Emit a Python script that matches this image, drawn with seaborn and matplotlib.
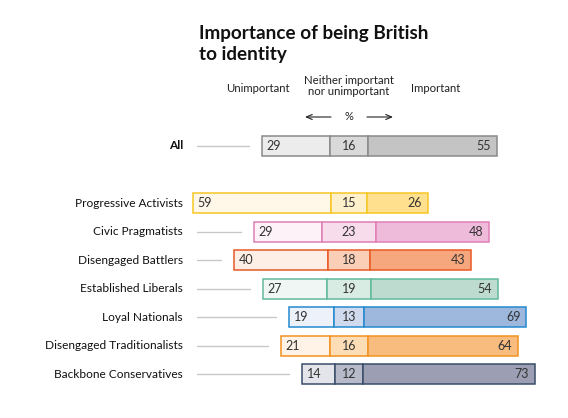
import numpy as np
import pandas as pd
import seaborn as sns
import matplotlib.pyplot as plt

# data
segments = ["All", "Progressive Activists", "Civic Pragmatists", "Disengaged Battlers",
            "Established Liberals", "Loyal Nationals", "Disengaged Traditionalists",
            "Backbone Conservatives"]
unimportant = [29, 59, 29, 40, 27, 19, 21, 14]
neither = [16, 15, 23, 18, 19, 13, 16, 12]
important = [55, 26, 48, 43, 54, 69, 64, 73]
row_pos = [0, 2, 3, 4, 5, 6, 7, 8]

edge_colors = ["#8a8a8a", "#f7c624", "#e07fb6", "#e85a25", "#62b99c",
               "#2389cf", "#f3921f", "#3b4d69"]
fill_colors = [
    ["#ececec", "#d9d9d9", "#c4c4c4"],
    ["#fff8e9", "#fff0cc", "#ffe08e"],
    ["#fdf2f8", "#f7dcec", "#efbbdb"],
    ["#fdeee6", "#fbcfb7", "#f6a77d"],
    ["#f0f6f3", "#d9ece4", "#bddccf"],
    ["#edf1fa", "#cfdaee", "#9db7dd"],
    ["#fef3e6", "#fcddb6", "#f7bc7e"],
    ["#e3e5ea", "#b6bac9", "#9c9fb3"],
]

sns.set_theme(style="white")
plt.rcParams["font.family"] = ["Lato", "DejaVu Sans"]

fig = plt.figure(figsize=(5.68, 4.18), dpi=100)
ax = fig.add_axes([0, 0, 1, 1])

# bars centred on the middle of the "neither" segment
unimp = np.array(unimportant)
neut = np.array(neither)
imp = np.array(important)
left0 = -(unimp + neut / 2)
left1 = -neut / 2
left2 = neut / 2

df = pd.DataFrame({"pos": row_pos, "u": unimp, "n": neut, "i": imp,
                   "l0": left0, "l1": left1, "l2": left2})

for k, (col, lcol) in enumerate([("u", "l0"), ("n", "l1"), ("i", "l2")]):
    sns.barplot(data=df, x=col, y="pos", orient="h", native_scale=True,
                left=df[lcol].values, width=0.7, errorbar=None, color="white",
                saturation=1, ax=ax)
    for j, patch in enumerate(ax.containers[-1]):
        patch.set_facecolor(fill_colors[j][k])
        patch.set_edgecolor(edge_colors[j])
        patch.set_linewidth(1.1)

# centre at x=349px, 2.35 px per %
ax.set_xlim(-148.5, 93.2)
ax.set_ylim(9.54, -5.12)
ax.axis("off")

tc = "#333333"
for j in range(len(segments)):
    y = row_pos[j]
    ax.text(left0[j] + 2.0, y, str(unimportant[j]), ha="left", va="center",
            fontsize=9, color=tc)
    ax.text(0, y, str(neither[j]), ha="center", va="center", fontsize=9, color=tc)
    ax.text(left2[j] + imp[j] - 2.5, y, str(important[j]), ha="right",
            va="center", fontsize=9, color=tc)
    ax.text(-70.6, y, segments[j], ha="right", va="center", fontsize=8.6,
            color="#111111", fontweight="bold" if j == 0 else "normal")
    line_start = -64.7
    line_end = left0[j] - 5.5
    if line_end > line_start + 2:
        ax.plot([line_start, line_end], [y, y], color="#c8c8c8", lw=1)

# title and headers
fig.text(199 / 568, 1 - 25 / 418, "Importance of being British\nto identity",
         ha="left", va="top", fontsize=13.6, fontweight="bold", color="#111111",
         linespacing=1.28)
fig.text(258 / 568, 1 - 88 / 418, "Unimportant", ha="center", va="center",
         fontsize=8.2, color="#222222")
fig.text(349 / 568, 1 - 86 / 418, "Neither important\nnor unimportant",
         ha="center", va="center", fontsize=8.2, color="#222222", linespacing=1.1)
fig.text(436 / 568, 1 - 88 / 418, "Important", ha="center", va="center",
         fontsize=8.2, color="#222222")
fig.text(349 / 568, 1 - 117 / 418, "%", ha="center", va="center",
         fontsize=8, color="#222222")
ay = 1 - 117 / 418
ax.annotate("", xy=(305 / 568, ay), xytext=(331 / 568, ay), xycoords="figure fraction",
            arrowprops=dict(arrowstyle="->,head_length=0.35,head_width=0.15",
                            color="#222222", lw=0.8, shrinkA=0, shrinkB=0))
ax.annotate("", xy=(393 / 568, ay), xytext=(367 / 568, ay), xycoords="figure fraction",
            arrowprops=dict(arrowstyle="->,head_length=0.35,head_width=0.15",
                            color="#222222", lw=0.8, shrinkA=0, shrinkB=0))

fig.savefig("out.png", dpi=100, facecolor="white")
